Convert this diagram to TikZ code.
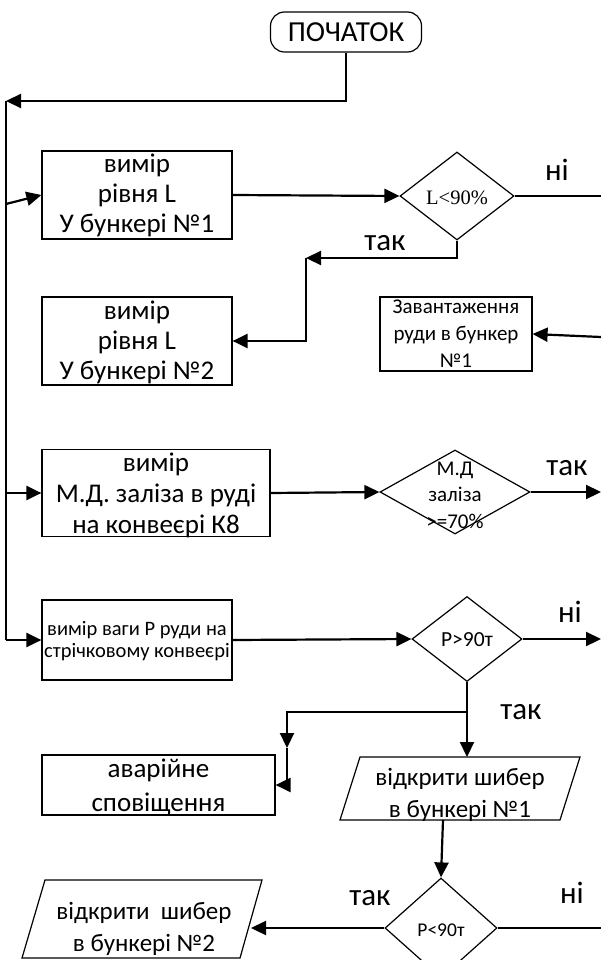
\documentclass[tikz,border=0pt]{standalone}
\usepackage{fontspec}
\setmainfont{Carlito}
\newfontfamily\serifA{Liberation Serif}
\usetikzlibrary{arrows.meta,shapes.geometric}
\begin{document}
\begin{tikzpicture}[x=1pt,y=-1pt,
  box/.style={draw, line width=1.2pt, inner sep=0pt, rectangle},
  dia/.style={draw, line width=1.2pt, diamond, inner sep=0pt},
  txt/.style={align=center, inner sep=0pt},
  conn/.style={line width=2.2pt},
  arr/.style={line width=2.2pt, -{Triangle[length=15pt,width=14pt]}},
  lbl/.style={font=\fontsize{31}{33}\selectfont, inner sep=0pt}]
\useasboundingbox (0,0) rectangle (601,960);

% start
\node[draw, line width=1.2pt, rounded corners=14pt, minimum width=151pt, minimum height=40pt, inner sep=0pt,
  font=\fontsize{29}{30}\selectfont] (start) at (346,32) {ПОЧАТОК};

% boxes
\node[box, minimum width=190pt, minimum height=88pt] (b1) at (137,195) {};
\node[txt, font=\fontsize{27}{30}\selectfont] (t1) at (137,195) {вимір\\рівня L\\У бункері №1};

\node[box, minimum width=190pt, minimum height=88pt] (b2) at (137,341) {};
\node[txt, font=\fontsize{27}{30}\selectfont] (t2) at (137,342) {вимір\\рівня L\\У бункері №2};

\node[box, minimum width=152pt, minimum height=74pt] (bz) at (456,334) {};
\node[txt, font=\fontsize{21}{27}\selectfont] (tz) at (456,334) {Завантаження\\руди в бункер\\№1};

\node[box, minimum width=228pt, minimum height=87pt] (b3) at (156,493) {};
\node[txt, font=\fontsize{27}{31}\selectfont] (t3) at (156,495) {вимір\\М.Д. заліза в руді\\на конвеєрі К8};

\node[box, minimum width=190pt, minimum height=80pt] (b4) at (137,640) {};
\node[txt, font=\fontsize{20.5}{22}\selectfont] (t4) at (137,641) {вимір ваги Р руди на\\стрічковому конвеєрі};

\node[box, minimum width=233pt, minimum height=60pt] (ba) at (158.5,785) {};
\node[txt, font=\fontsize{27}{34}\selectfont] (ta) at (158.5,787) {аварійне\\сповіщення};

% diamonds
\node[dia, minimum width=114pt, minimum height=88pt] (d1) at (457,196) {};
\node[txt, font=\serifA\fontsize{20.5}{22}\selectfont] (td1) at (457,198) {L<90\%};

\node[dia, minimum width=150pt, minimum height=84pt] (d3) at (455,492) {};
\node[txt, font=\fontsize{21}{26.5}\selectfont] (td3) at (455,495) {М.Д\\заліза\\>=70\%};

\node[dia, minimum width=110pt, minimum height=85pt] (d4) at (467,639) {};
\node[txt, font=\fontsize{21.5}{23}\selectfont] (td4) at (467,640) {Р>90т};

\node[dia, minimum width=112pt, minimum height=100pt] (d5) at (441,928) {};
\node[txt, font=\fontsize{19.5}{21}\selectfont] (td5) at (441,930) {Р<90т};

% parallelograms
\draw[line width=1.2pt] (360,757) -- (580,757) -- (560,820) -- (340,820) -- cycle;
\node[txt, font=\fontsize{25}{32}\selectfont] (p1) at (460,795) {відкрити шибер\\в бункері №1};
\coordinate (p1top) at (467,757);
\coordinate (p1bot) at (443,820);

\draw[line width=1.2pt] (45,880) -- (262,880) -- (240,958) -- (22,958) -- cycle;
\node[txt, font=\fontsize{25}{32}\selectfont] (p2) at (144,929) {відкрити\ \ шибер\\в бункері №2};
\coordinate (p2right) at (251,928);

% coordinates
\coordinate (busTop) at (6,101);
\coordinate (busBot) at (6,640);
\coordinate (c1) at (306,258);
\coordinate (j1) at (467,712);
\coordinate (j3) at (287,748);
\coordinate (e1) at (601,196);
\coordinate (e2) at (601,337);
\coordinate (e3) at (601,492);
\coordinate (e4) at (601,639);
\coordinate (e5) at (601,928);

% connectors
\draw[arr] (start.south) |- (busTop);
\draw[conn] (busTop) -- (busBot);
\draw[arr] (6,204) -- (b1.west);
\draw[arr] (6,493) -- (b3.west);
\draw[arr] (busBot) -- (b4.west);

\draw[arr] (b1.east) -- (d1.west);
\draw[conn] (d1.east) -- (e1);
\draw[arr] (d1.south) |- (c1);
\draw[arr] (c1) |- (b2.east);
\draw[arr] (e2) -- (bz.east);

\draw[arr] (b3.east) -- (d3.west);
\draw[arr] (d3.east) -- (e3);

\draw[arr] (b4.east) -- (d4.west);
\draw[arr] (d4.east) -- (e4);
\draw[conn] (d4.south) -- (j1);
\draw[arr] (j1) -- (p1top);
\draw[arr] (j1) -| (j3);
\draw[arr] (j3) |- (ba.east);

\draw[arr] (p1bot) -- (d5.north);
\draw[arr] (d5.west) -- (p2right);
\draw[conn] (d5.east) -- (e5);

% labels
\node[lbl] (l1) at (557,170) {ні};
\node[lbl] (l2) at (385,243) {так};
\node[lbl] (l3) at (567,468) {так};
\node[lbl] (l4) at (570,612) {ні};
\node[lbl] (l5) at (521,712) {так};
\node[lbl] (l6) at (370,898) {так};
\node[lbl] (l7) at (572,893) {ні};
\end{tikzpicture}
\end{document}
